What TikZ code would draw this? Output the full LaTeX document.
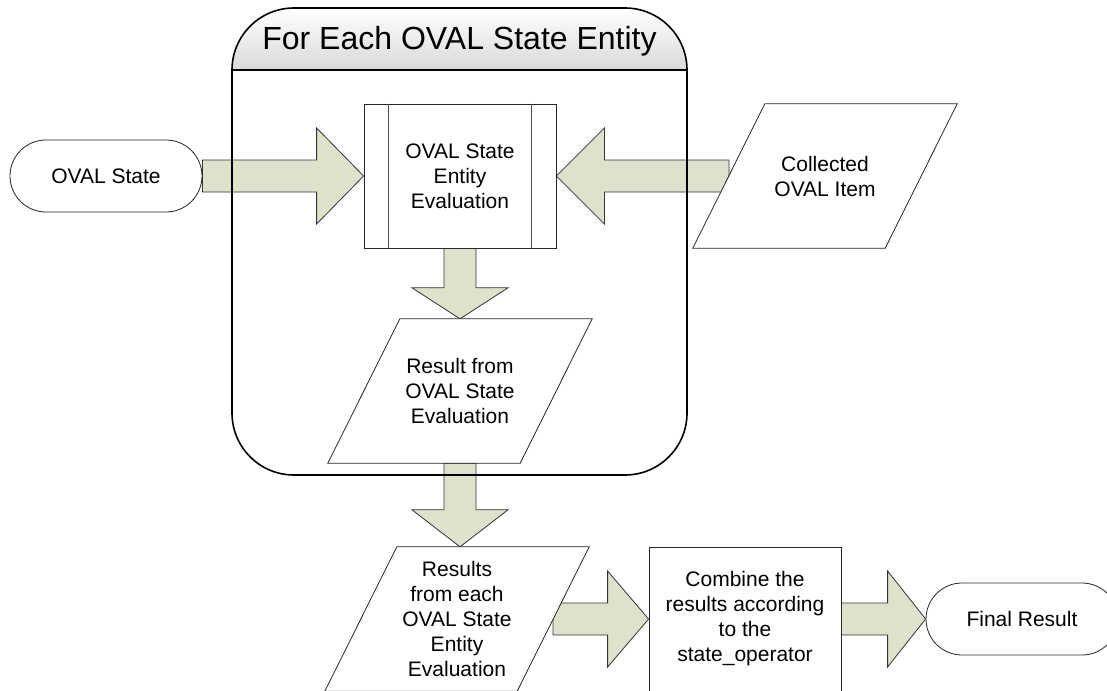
\documentclass[tikz,border=0pt]{standalone}
\usepackage{fontspec}
\setmainfont{Liberation Sans}
\usetikzlibrary{calc}
\pgfdeclarelayer{bottom}
\pgfdeclarelayer{background}
\pgfdeclarelayer{shapes}
\pgfsetlayers{bottom,background,shapes,main}
\definecolor{arrowfill}{RGB}{221,226,204}
\tikzset{
  lbl/.style={font=\fontsize{21}{25}\selectfont, align=center, inner sep=0pt},
  term/.style={lbl, draw=black!85, fill=white, rounded corners=36pt, minimum width=192pt, minimum height=72pt, line width=0.8pt},
  proc/.style={lbl, draw=black!85, fill=white, minimum width=192pt, minimum height=144pt, line width=0.8pt},
  para/.style={lbl, minimum width=264pt, minimum height=144pt},
  paraline/.style={draw=black!85, fill=white, line width=0.8pt},
  barrow/.style={draw=black!80, fill=arrowfill, line width=0.8pt, line join=miter},
  frameline/.style={draw=black, line width=1.6pt},
}
\newcommand\blockarrow[3]{%
  \begin{pgfonlayer}{background}
  \path (#1) coordinate (ba-a) (#2) coordinate (ba-b);
  \path ($(ba-b)!#3!(ba-a)$) coordinate (ba-h);
  \draw[barrow] ($(ba-a)!16pt!90:(ba-b)$) -- ($(ba-h)!16pt!90:(ba-b)$) -- ($(ba-h)!48pt!90:(ba-b)$) -- (ba-b) -- ($(ba-h)!48pt!-90:(ba-b)$) -- ($(ba-h)!16pt!-90:(ba-b)$) -- ($(ba-a)!16pt!-90:(ba-b)$) -- cycle;
  \end{pgfonlayer}}
\newcommand\paraoutline[1]{%
  \begin{pgfonlayer}{shapes}
  \draw[paraline] ($(#1.north west)+(72,0)$) -- (#1.north east) -- ($(#1.south east)+(-72,0)$) -- (#1.south west) -- cycle;
  \end{pgfonlayer}}
\begin{document}
\begin{tikzpicture}[x=1pt,y=-1pt]
\useasboundingbox (0,0) rectangle (1107,690);
\clip (0,0) rectangle (1107,690);
\begin{pgfonlayer}{bottom}
\fill[white] (0,0) rectangle (1107,690);
\end{pgfonlayer}

% container
\begin{scope}
\clip[rounded corners=62pt] (232,8) rectangle (687,475);
\shade[top color=white, bottom color=black!15] (232,8) rectangle (687,70);
\end{scope}
\draw[frameline, rounded corners=62pt] (232,8) rectangle (687,475);
\draw[frameline] (232,70) -- (687,70);
\node (title) [anchor=base, font=\fontsize{32}{38}\selectfont, inner sep=0pt] at (459.5,50) {For Each OVAL State Entity};

% nodes
\node (st) [term] at (106,176) {OVAL State};
\node (ev) [proc] at (460,176) {OVAL State\\Entity\\Evaluation};
\draw[black!70, line width=0.8pt] ($(ev.north west)+(25,0)$) -- ($(ev.south west)+(25,0)$);
\draw[black!70, line width=0.8pt] ($(ev.north east)+(-25,0)$) -- ($(ev.south east)+(-25,0)$);
\node (ci) [para] at (825,176) {Collected\\OVAL Item};
\paraoutline{ci}
\node (rs) [para] at (460,391) {Result from\\OVAL State\\Evaluation};
\paraoutline{rs}
\node (rsall) [para] at (457,619) {Results\\from each\\OVAL State\\Entity\\Evaluation};
\paraoutline{rsall}
\node (cb) [proc] at (745,619) {Combine the\\results according\\to the\\state\_operator};
\node (fr) [term] at (1022,619) {Final Result};

\coordinate (citail) at ($(ci.center)+(-96,0)$);
\coordinate (rsalltail) at ($(rsall.center)+(96,0)$);
\coordinate (rsalltip) at (rs.south |- rsall.north);

% block arrows
\blockarrow{st.east}{ev.west}{47pt}
\blockarrow{citail}{ev.east}{48pt}
\blockarrow{ev.south}{rs.north}{31pt}
\blockarrow{rs.south}{rsalltip}{37pt}
\blockarrow{rsalltail}{cb.west}{41pt}
\blockarrow{cb.east}{fr.west}{38pt}
\end{tikzpicture}
\end{document}
